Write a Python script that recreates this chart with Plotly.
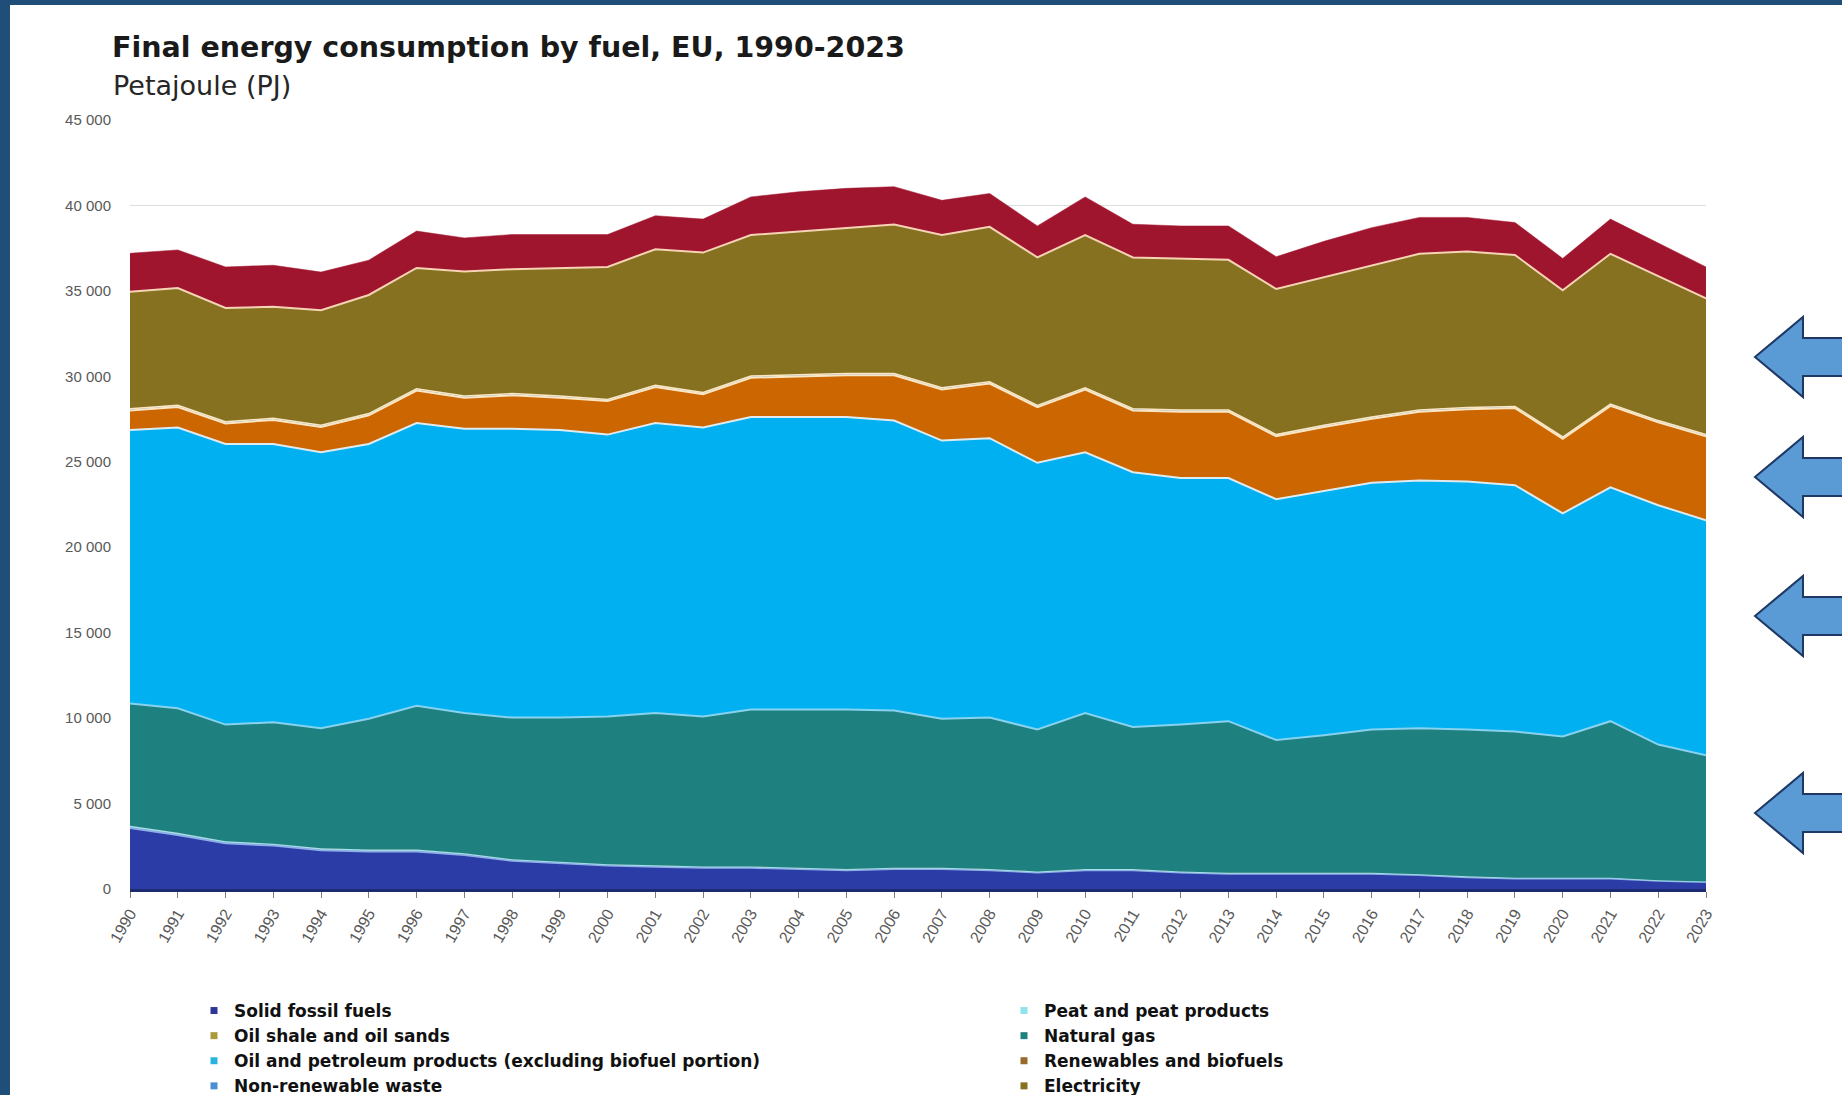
import plotly.graph_objects as go

# ---------------- data (PJ) ----------------
years = list(range(1990, 2024))

solid_fossil = [3570, 3160, 2680, 2540, 2270, 2200, 2200, 1990, 1650, 1510, 1370, 1300, 1240, 1240, 1170, 1100, 1170,
                1170, 1100, 960, 1100, 1100, 960, 890, 890, 890, 890, 820, 690, 620, 620, 620, 480, 410]
peat = [110, 100, 95, 90, 85, 80, 80, 75, 70, 65, 60, 60, 55, 55, 50, 50, 50, 45, 45, 40, 40, 40, 40, 35, 35, 35,
        35, 30, 30, 25, 25, 25, 20, 20]
oil_shale = [25, 25, 25, 25, 25, 25, 25, 25, 25, 25, 25, 25, 25, 25, 25, 25, 25, 25, 25, 25, 25, 25, 25, 25, 20, 20,
             20, 20, 20, 20, 15, 15, 15, 15]
natural_gas = [7145, 7295, 6820, 7105, 7030, 7655, 8415, 8210, 8285, 8430, 8645, 8915, 8780, 9190, 9265, 9335, 9195,
               8720, 8860, 8315, 9135, 8315, 8595, 8870, 7775, 8055, 8395, 8540, 8600, 8545, 8270, 9160, 7935, 7385]
oil_petroleum = [16010, 16420, 16420, 16280, 16150, 16080, 16550, 16630, 16900, 16830, 16490, 16970, 16900, 17110,
                 17110, 17110, 16970, 16280, 16350, 15600, 15260, 14910, 14430, 14230, 14090, 14290, 14430, 14500,
                 14500, 14420, 13050, 13680, 14010, 13740]
renewables = [1140, 1200, 1200, 1410, 1480, 1680, 1900, 1820, 1960, 1890, 1960, 2100, 1960, 2300, 2370, 2440, 2650,
              2990, 3200, 3260, 3670, 3610, 3880, 3880, 3680, 3750, 3750, 4020, 4230, 4510, 4370, 4770, 4850, 4920]
non_renewable_waste = [100, 100, 100, 100, 100, 100, 100, 100, 100, 100, 100, 100, 100, 100, 100, 100, 100, 100, 100,
                       100, 100, 100, 100, 100, 100, 100, 100, 100, 100, 100, 100, 100, 100, 100]
electricity = [6850, 6870, 6660, 6520, 6730, 6940, 7070, 7290, 7280, 7490, 7750, 7970, 8180, 8250, 8380, 8520, 8720,
               8940, 9070, 8660, 8940, 8860, 8860, 8790, 8520, 8650, 8860, 9140, 9130, 8860, 8590, 8800, 8450, 7970]
heat = [2250, 2230, 2400, 2430, 2230, 2040, 2160, 1960, 2030, 1960, 1900, 1960, 1960, 2230, 2330, 2320, 2220, 2030,
        1950, 1840, 2230, 1940, 1910, 1980, 1890, 2110, 2220, 2130, 2000, 1900, 1860, 2030, 1940, 1840]

y_ticks = [0, 5000, 10000, 15000, 20000, 25000, 30000, 35000, 40000, 45000]

# ---------------- layout geometry (pixels) ----------------
W, H = 1842, 1095
ML, MR, MT, MB = 130, 136, 120, 206
PW, PH = W - ML - MR, H - MT - MB


def px(x):
    return (x - ML) / PW


def py(y):
    return (H - MB - y) / PH


layers = [
    # name, values, fill, boundary line colour, line width
    ("Solid fossil fuels", solid_fossil, "#2b3ca6", "#8eaee6", 2.0),
    ("Peat and peat products", peat, "#8fe3ea", "#a6e4f2", 1.0),
    ("Oil shale and oil sands", oil_shale, "#a99a3c", "#a6e4f2", 0.0),
    ("Natural gas", natural_gas, "#1f8080", "#86d2ef", 2.0),
    ("Oil and petroleum products (excluding biofuel portion)", oil_petroleum, "#00b0f0", "#dfeaf0", 2.0),
    ("Renewables and biofuels", renewables, "#cc6600", "#fbe6c4", 2.0),
    ("Non-renewable waste", non_renewable_waste, "#4a90d0", "#fbe6c4", 1.5),
    ("Electricity", electricity, "#85711f", "#f6d3b4", 2.0),
    ("Heat", heat, "#a0152e", "#a0152e", 0.5),
]

fig = go.Figure()
for name, vals, fill, lc, lw in layers:
    fig.add_trace(go.Scatter(
        x=years, y=vals, name=name, stackgroup="one", mode="lines",
        line=dict(color=lc, width=lw), fillcolor=fill, showlegend=False,
        hovertemplate="%{x}: %{y:,} PJ<extra>" + name + "</extra>",
    ))

# legend entries: (name, marker colour, which legend column)
legend_items = [
    ("Solid fossil fuels", "#2e3596", "legend"),
    ("Oil shale and oil sands", "#a99a3c", "legend"),
    ("Oil and petroleum products (excluding biofuel portion)", "#2ab4dc", "legend"),
    ("Non-renewable waste", "#4a90d0", "legend"),
    ("Peat and peat products", "#8fe3ea", "legend2"),
    ("Natural gas", "#1f8080", "legend2"),
    ("Renewables and biofuels", "#9a6a2a", "legend2"),
    ("Electricity", "#85711f", "legend2"),
]
for name, col, lg in legend_items:
    fig.add_trace(go.Scatter(
        x=[None], y=[None], mode="markers", name=name, legend=lg,
        marker=dict(symbol="square", size=7, color=col), showlegend=True, hoverinfo="skip",
    ))

# ---------------- decorations ----------------
shapes = [
    # white card over the navy frame
    dict(type="rect", xref="paper", yref="paper", x0=px(10), x1=px(W + 5), y0=py(H + 5), y1=py(5),
         fillcolor="white", line=dict(width=0), layer="below"),
]
arrow_centres = [357, 477, 616, 813]
tip_x, head_x, end_x = 1755, 1803, W + 10
head_h, shaft_h = 40, 19
for cy in arrow_centres:
    pts = [(tip_x, cy), (head_x, cy - head_h), (head_x, cy - shaft_h), (end_x, cy - shaft_h),
           (end_x, cy + shaft_h), (head_x, cy + shaft_h), (head_x, cy + head_h)]
    path = "M " + " L ".join(f"{px(a):.5f},{py(b):.5f}" for a, b in pts) + " Z"
    shapes.append(dict(type="path", xref="paper", yref="paper", path=path,
                       fillcolor="#5b9bd5", line=dict(color="#1f3864", width=2), layer="above"))

legend_font = dict(family="DejaVu Sans, sans-serif", size=17, color="#111111", weight="bold")

fig.update_layout(
    width=W, height=H,
    margin=dict(l=ML, r=MR, t=MT, b=MB, pad=0, autoexpand=False),
    paper_bgcolor="#1f4e79", plot_bgcolor="white",
    separators=". ",
    font=dict(family="Liberation Sans, Arial, sans-serif", color="#222222"),
    title=dict(text="<b>Final energy consumption by fuel, EU, 1990-2023</b>",
               xref="container", yref="container", x=112 / W, y=1 - 47 / H,
               xanchor="left", yanchor="middle",
               font=dict(family="DejaVu Sans, sans-serif", size=28.5, color="#1a1a1a")),
    annotations=[dict(text="Petajoule (PJ)", xref="paper", yref="paper", x=px(111), y=py(85),
                      xanchor="left", yanchor="middle", showarrow=False,
                      font=dict(family="DejaVu Sans, sans-serif", size=27, color="#262626"))],
    shapes=shapes,
    xaxis=dict(range=[1990, 2023], tickmode="array", tickvals=years, ticktext=[str(y) for y in years],
               tickangle=-60, ticks="outside", ticklen=6, tickcolor="#7f7f7f", tickwidth=1,
               showline=True, linecolor="#1c2a6e", linewidth=3, showgrid=False, zeroline=False,
               tickfont=dict(family="Liberation Sans, Arial, sans-serif", size=16, color="#595959")),
    yaxis=dict(range=[0, 45000], tickmode="array", tickvals=y_ticks, tickformat=",d",
               showgrid=True, gridcolor="#dddddd", gridwidth=1, zeroline=False, showline=False,
               ticks="", ticklabelstandoff=18,
               tickfont=dict(family="Liberation Sans, Arial, sans-serif", size=15, color="#595959")),
    legend=dict(orientation="v", xref="paper", yref="container", x=px(194), y=1 - 993 / H,
                xanchor="left", yanchor="top", itemwidth=30, traceorder="normal",
                bgcolor="rgba(0,0,0,0)", font=legend_font),
    legend2=dict(orientation="v", xref="paper", yref="container", x=px(1004), y=1 - 993 / H,
                 xanchor="left", yanchor="top", itemwidth=30, traceorder="normal",
                 bgcolor="rgba(0,0,0,0)", font=legend_font),
    showlegend=True,
)

fig.write_html("out.html")
